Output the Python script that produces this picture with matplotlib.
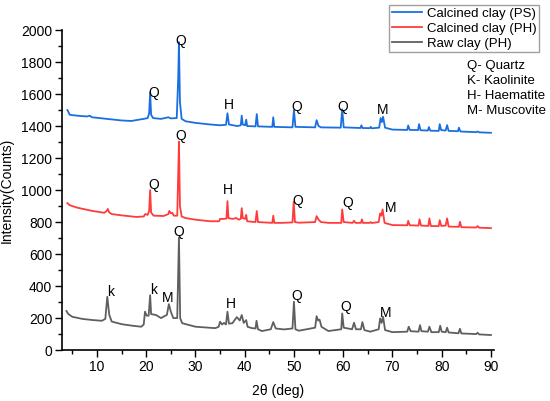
import matplotlib
matplotlib.use("Agg")
import matplotlib.pyplot as plt
from matplotlib.ticker import MultipleLocator

plt.rcParams['font.family'] = ['Liberation Sans', 'DejaVu Sans']

# ---- data ----
ps_2theta = [4.0, 4.5, 6, 8, 8.5, 9, 12, 15, 17, 18.5, 19.5, 20.3, 20.6, 20.8, 21.0, 21.4, 23, 24.5, 25, 26.2,
             26.5, 26.65, 26.85, 27.2, 28, 30, 33, 35, 36.2, 36.5, 36.8, 38.5, 39.2, 39.4, 39.6, 40.1, 40.3, 40.5,
             42.2, 42.45, 42.7, 45.6, 45.8, 46.0, 49.7, 50.0, 50.3, 54.3, 54.6, 55.0, 55.5, 59.5, 59.8, 60.1,
             63.5, 63.7, 63.9, 65.4, 65.6, 65.8, 67.3, 67.6, 67.85, 68.1, 68.5, 70, 73, 73.2, 73.5, 75.2, 75.4,
             75.7, 77.2, 77.4, 77.7, 79.4, 79.6, 79.9, 80.8, 81.1, 81.4, 83.3, 83.5, 83.8, 87.0, 87.3, 87.6, 90]
ps_counts = [1500, 1470, 1465, 1460, 1465, 1455, 1445, 1435, 1432, 1440, 1445, 1450, 1480, 1610, 1470, 1450, 1445,
             1455, 1448, 1450, 1700, 1925, 1550, 1445, 1430, 1420, 1410, 1405, 1408, 1480, 1410, 1400, 1405, 1465,
             1410, 1405, 1440, 1400, 1398, 1475, 1398, 1395, 1455, 1395, 1392, 1500, 1395, 1392, 1437, 1400, 1392,
             1390, 1505, 1392, 1388, 1405, 1388, 1387, 1395, 1386, 1390, 1450, 1425, 1458, 1390, 1378, 1376, 1404,
             1376, 1375, 1412, 1374, 1372, 1394, 1371, 1370, 1412, 1375, 1372, 1406, 1370, 1368, 1390, 1366, 1362,
             1366, 1361, 1358]

ph_cal_2theta = [4.0, 4.5, 6, 9, 11.5, 12.0, 12.2, 12.5, 13, 15, 18, 19.5, 19.8, 20.3, 20.6, 20.8, 21.0, 21.5, 23.5,
                 24.5, 24.7, 25.0, 25.3, 25.6, 26.3, 26.5, 26.65, 26.85, 27.2, 28, 30, 33, 34.8, 35.0, 35.8, 36.3,
                 36.5, 36.7, 37.5, 38.3, 38.8, 39.2, 39.4, 39.6, 40.1, 40.3, 40.5, 42.2, 42.45, 42.7, 45.6, 45.8,
                 46.0, 47.5, 49.7, 49.95, 50.2, 51, 54.3, 54.6, 55.0, 55.5, 57, 59.6, 59.8, 60.1, 61.9, 62.2, 62.5,
                 63.6, 63.8, 64.0, 65.4, 65.6, 65.8, 67.2, 67.5, 67.75, 68.0, 68.4, 70, 73.0, 73.2, 73.5, 75.3, 75.5,
                 75.8, 77.3, 77.5, 77.8, 79.4, 79.6, 79.9, 80.8, 81.1, 81.4, 83.5, 83.7, 84.0, 87.0, 87.3, 87.6, 90]
ph_cal_counts = [918, 905, 890, 870, 858, 870, 882, 860, 850, 842, 832, 835, 850, 845, 870, 1000, 860, 840, 838,
                 850, 870, 855, 858, 840, 840, 1100, 1302, 900, 835, 825, 815, 805, 805, 820, 820, 822, 931, 825,
                 820, 825, 815, 820, 887, 825, 820, 845, 805, 800, 869, 800, 795, 840, 795, 795, 798, 927, 800, 796,
                 800, 837, 815, 800, 795, 795, 879, 800, 795, 808, 795, 795, 817, 795, 795, 800, 794, 800, 854, 840,
                 879, 795, 781, 780, 808, 780, 778, 817, 778, 776, 823, 775, 775, 812, 776, 778, 823, 772, 770, 802,
                 768, 766, 775, 765, 762]

raw_2theta = [3.8, 4.2, 5, 7, 9, 11, 11.7, 12.1, 12.5, 13, 15, 17, 19, 19.5, 19.75, 20.1, 20.5, 20.8, 21.0, 22, 23,
              24.2, 24.6, 25.0, 25.5, 26.3, 26.65, 26.9, 27.3, 30, 34, 34.7, 35.0, 35.4, 35.8, 36.2, 36.5, 36.8,
              37.5, 38.4, 39.0, 39.4, 39.8, 40.3, 40.6, 41.5, 42.2, 42.4, 42.7, 43.5, 45.3, 45.8, 46.3, 48, 49.7,
              50.0, 50.3, 51, 54.3, 54.6, 54.9, 55.2, 55.6, 57, 59.6, 59.8, 60.1, 61.8, 62.2, 62.6, 63.6, 63.9, 64.3,
              65.5, 67.2, 67.5, 67.8, 68.1, 68.5, 70, 73.0, 73.3, 73.7, 75.3, 75.6, 75.9, 77.2, 77.5, 77.9, 79.4,
              79.7, 80.0, 80.8, 81.1, 81.4, 83.4, 83.7, 84.0, 87.0, 87.3, 87.6, 90]
raw_counts = [244, 225, 208, 195, 188, 183, 195, 333, 220, 178, 162, 153, 146, 160, 240, 215, 215, 343, 225, 219,
              200, 220, 287, 240, 200, 200, 704, 200, 168, 146, 137, 145, 177, 160, 170, 160, 240, 165, 168, 206,
              185, 219, 170, 187, 145, 137, 135, 183, 130, 119, 130, 175, 135, 129, 135, 302, 130, 121, 140, 212,
              185, 190, 145, 119, 130, 229, 140, 130, 171, 130, 130, 175, 125, 115, 130, 198, 170, 208, 125, 112,
              115, 146, 118, 115, 156, 118, 115, 146, 112, 112, 152, 115, 112, 140, 110, 105, 133, 104, 100, 108,
              98, 94]

series_labels = ['Calcined clay (PS)', 'Calcined clay (PH)', 'Raw clay (PH)']
series_colors = ['#1a6fe0', '#ff3b3b', '#5f5f5f']

peak_text = ['Q', 'Q', 'H', 'Q', 'Q', 'M',
             'Q', 'Q', 'H', 'Q', 'Q', 'M',
             'k', 'k', 'M', 'Q', 'H', 'Q', 'Q', 'M']
peak_x = [21.6, 27.0, 36.7, 50.6, 59.9, 68.1,
          21.6, 27.0, 36.5, 50.8, 61.0, 69.6,
          12.7, 21.5, 24.3, 26.6, 37.1, 50.6, 60.5, 68.6]
peak_y = [1606, 1930, 1530, 1520, 1520, 1500,
          1031, 1340, 1000, 930, 918, 890,
          365, 375, 323, 735, 285, 337, 267, 229]

mineral_key = ['Q- Quartz', 'K- Kaolinite', 'H- Haematite', 'M- Muscovite']

# ---- figure ----
fig = plt.figure(figsize=(5.5, 4.01), dpi=100)
ax = fig.add_axes([0.1127, 0.127, 0.7853, 0.798])

ax.plot(ps_2theta, ps_counts, color=series_colors[0], lw=1.3, label=series_labels[0])
ax.plot(ph_cal_2theta, ph_cal_counts, color=series_colors[1], lw=1.3, label=series_labels[1])
ax.plot(raw_2theta, raw_counts, color=series_colors[2], lw=1.3, label=series_labels[2])

for t, x, y in zip(peak_text, peak_x, peak_y):
    ax.text(x, y, t, fontsize=10, ha='center', va='center', color='black')

ax.set_xlim(2.9, 90.6)
ax.set_ylim(0, 2000)
ax.xaxis.set_major_locator(MultipleLocator(10))
ax.xaxis.set_minor_locator(MultipleLocator(5))
ax.yaxis.set_major_locator(MultipleLocator(200))
ax.yaxis.set_minor_locator(MultipleLocator(100))
ax.set_xticks(range(10, 91, 10))
ax.tick_params(which='major', direction='out', length=5, width=1, labelsize=10, pad=2)
ax.tick_params(which='minor', direction='out', length=3, width=1)
for s in ['top', 'right']:
    ax.spines[s].set_visible(False)
for s in ['left', 'bottom']:
    ax.spines[s].set_linewidth(1.2)

ax.set_xlabel('2θ (deg)', fontsize=10, labelpad=7)
ax.set_ylabel('Intensity(Counts)', fontsize=10, labelpad=5)

leg = fig.legend(loc='upper right', bbox_to_anchor=(0.98, 0.9875), bbox_transform=fig.transFigure,
                 fontsize=9.5, frameon=True, fancybox=False, edgecolor='#888888', borderaxespad=0,
                 borderpad=0.2, labelspacing=0.2, handlelength=2.3, handletextpad=0.35)
leg.get_frame().set_linewidth(1.0)

fig.text(467 / 550, 1 - 60 / 401, '\n'.join(mineral_key), fontsize=9.5, ha='left', va='top',
         linespacing=1.34)

fig.savefig('out.png', dpi=100)
